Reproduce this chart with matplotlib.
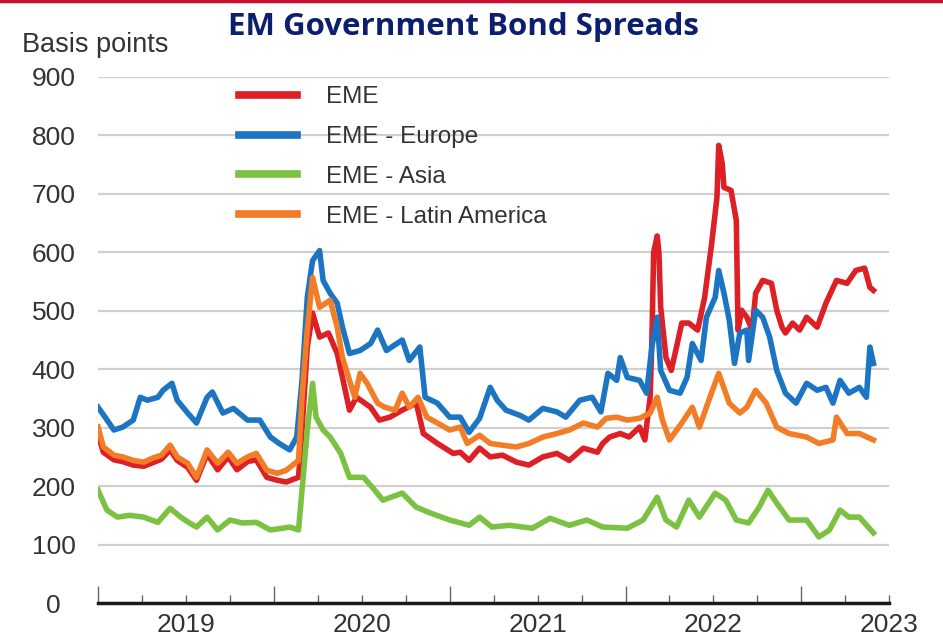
import matplotlib
matplotlib.use("Agg")
import matplotlib.pyplot as plt
from matplotlib.lines import Line2D

plt.rcParams['font.family'] = ['Liberation Sans', 'DejaVu Sans']

# Data (decimal years, basis points)
eme_t = [2019.00, 2019.03, 2019.09, 2019.14, 2019.20, 2019.26, 2019.31, 2019.36, 2019.41, 2019.45,
         2019.51, 2019.56, 2019.62, 2019.68, 2019.74, 2019.79, 2019.85, 2019.90, 2019.96, 2020.02,
         2020.07, 2020.14, 2020.16, 2020.19, 2020.22, 2020.26, 2020.31, 2020.36, 2020.39, 2020.43,
         2020.47, 2020.55, 2020.60, 2020.66, 2020.73, 2020.81, 2020.85, 2020.93, 2021.02, 2021.06,
         2021.11, 2021.17, 2021.23, 2021.30, 2021.38, 2021.45, 2021.53, 2021.61, 2021.68, 2021.76,
         2021.84, 2021.87, 2021.91, 2021.97, 2022.02, 2022.08, 2022.11, 2022.14, 2022.15, 2022.16,
         2022.18, 2022.19, 2022.20, 2022.23, 2022.26, 2022.29, 2022.32, 2022.36, 2022.41, 2022.45,
         2022.49, 2022.52, 2022.53, 2022.55, 2022.56, 2022.60, 2022.63, 2022.64, 2022.66, 2022.69,
         2022.72, 2022.74, 2022.78, 2022.83, 2022.86, 2022.89, 2022.91, 2022.95, 2022.99, 2023.03,
         2023.09, 2023.14, 2023.20, 2023.26, 2023.31, 2023.36, 2023.39, 2023.41]
eme = [288, 258, 245, 242, 236, 234, 240, 246, 262, 244,
       232, 210, 255, 228, 250, 228, 242, 245, 215, 210,
       207, 215, 296, 438, 496, 455, 462, 427, 386, 330,
       352, 335, 313, 318, 330, 342, 290, 273, 256, 258,
       244, 265, 250, 253, 241, 236, 250, 256, 244, 265,
       258, 273, 284, 290, 284, 301, 279, 352, 450, 600,
       628, 600, 506, 420, 398, 438, 479, 479, 467, 523,
       615, 694, 783, 752, 711, 706, 655, 467, 501, 489,
       467, 530, 552, 547, 501, 472, 462, 479, 467, 489,
       472, 513, 552, 547, 569, 573, 540, 535]

europe_t = [2019.00, 2019.04, 2019.09, 2019.14, 2019.20, 2019.24, 2019.28, 2019.34, 2019.37, 2019.42,
            2019.45, 2019.51, 2019.56, 2019.62, 2019.65, 2019.71, 2019.77, 2019.85, 2019.92, 2019.98,
            2020.03, 2020.09, 2020.13, 2020.16, 2020.19, 2020.22, 2020.26, 2020.28, 2020.32, 2020.36,
            2020.39, 2020.43, 2020.49, 2020.55, 2020.59, 2020.64, 2020.73, 2020.77, 2020.83, 2020.86,
            2020.93, 2021.00, 2021.06, 2021.11, 2021.17, 2021.23, 2021.27, 2021.32, 2021.40, 2021.45,
            2021.53, 2021.61, 2021.66, 2021.74, 2021.81, 2021.86, 2021.90, 2021.95, 2021.97, 2022.01,
            2022.08, 2022.12, 2022.15, 2022.18, 2022.20, 2022.25, 2022.31, 2022.35, 2022.38, 2022.43,
            2022.46, 2022.51, 2022.53, 2022.56, 2022.59, 2022.62, 2022.65, 2022.69, 2022.70, 2022.74,
            2022.78, 2022.82, 2022.86, 2022.91, 2022.97, 2023.03, 2023.09, 2023.14, 2023.18, 2023.22,
            2023.27, 2023.33, 2023.37, 2023.39, 2023.41]
europe = [335, 318, 296, 301, 313, 352, 347, 352, 364, 376,
          347, 325, 308, 352, 361, 325, 333, 313, 313, 284,
          273, 262, 284, 381, 523, 586, 603, 552, 530, 513,
          472, 427, 432, 444, 467, 432, 450, 415, 438, 352,
          342, 318, 318, 292, 316, 369, 347, 330, 321, 313,
          333, 327, 318, 347, 352, 327, 393, 381, 420, 386,
          381, 359, 438, 489, 398, 364, 359, 386, 444, 415,
          489, 523, 569, 530, 484, 410, 462, 467, 415, 501,
          489, 455, 398, 359, 342, 376, 364, 369, 342, 381,
          359, 369, 352, 438, 410]

asia_t = [2019.00, 2019.05, 2019.11, 2019.18, 2019.26, 2019.34, 2019.41, 2019.47, 2019.52, 2019.56,
          2019.62, 2019.68, 2019.75, 2019.82, 2019.90, 2019.98, 2020.05, 2020.09, 2020.14, 2020.16,
          2020.19, 2020.22, 2020.24, 2020.28, 2020.32, 2020.38, 2020.43, 2020.51, 2020.56, 2020.62,
          2020.73, 2020.81, 2020.89, 2021.00, 2021.11, 2021.17, 2021.24, 2021.34, 2021.47, 2021.57,
          2021.68, 2021.78, 2021.87, 2022.01, 2022.10, 2022.18, 2022.23, 2022.29, 2022.36, 2022.42,
          2022.51, 2022.57, 2022.63, 2022.70, 2022.76, 2022.81, 2022.86, 2022.93, 2023.03, 2023.10,
          2023.16, 2023.22, 2023.27, 2023.33, 2023.41]
asia = [193, 159, 147, 150, 147, 138, 162, 147, 137, 130,
        147, 125, 142, 137, 138, 125, 128, 130, 125, 193,
        296, 376, 318, 296, 284, 256, 215, 215, 198, 176,
        188, 164, 154, 142, 133, 147, 130, 133, 128, 145,
        133, 142, 130, 128, 142, 181, 142, 130, 176, 147,
        188, 176, 142, 137, 164, 193, 171, 142, 142, 113,
        125, 159, 147, 147, 120]

latam_t = [2019.00, 2019.03, 2019.09, 2019.14, 2019.20, 2019.26, 2019.31, 2019.36, 2019.41, 2019.45,
           2019.51, 2019.56, 2019.62, 2019.68, 2019.74, 2019.79, 2019.85, 2019.90, 2019.96, 2020.02,
           2020.07, 2020.14, 2020.16, 2020.19, 2020.22, 2020.26, 2020.32, 2020.36, 2020.39, 2020.43,
           2020.46, 2020.49, 2020.53, 2020.59, 2020.63, 2020.69, 2020.73, 2020.77, 2020.82, 2020.87,
           2020.93, 2021.00, 2021.06, 2021.10, 2021.17, 2021.23, 2021.30, 2021.38, 2021.45, 2021.53,
           2021.61, 2021.68, 2021.76, 2021.84, 2021.89, 2021.95, 2022.01, 2022.08, 2022.14, 2022.18,
           2022.21, 2022.25, 2022.32, 2022.38, 2022.42, 2022.48, 2022.53, 2022.59, 2022.65, 2022.69,
           2022.74, 2022.80, 2022.86, 2022.93, 2023.03, 2023.10, 2023.18, 2023.20, 2023.26, 2023.33,
           2023.41]
latam = [301, 267, 253, 250, 244, 241, 248, 253, 270, 250,
         239, 215, 262, 239, 258, 239, 250, 256, 227, 222,
         227, 244, 352, 467, 557, 506, 518, 472, 420, 381,
         352, 393, 376, 342, 335, 330, 359, 335, 352, 318,
         308, 296, 301, 273, 287, 273, 270, 267, 273, 284,
         290, 296, 308, 301, 316, 318, 313, 316, 325, 352,
         313, 279, 308, 335, 301, 352, 393, 342, 325, 335,
         364, 342, 301, 290, 284, 273, 279, 318, 290, 290,
         279]

labels = ['EME', 'EME - Europe', 'EME - Asia', 'EME - Latin America']
colors = ['#dd1f26', '#1b75c2', '#7cc242', '#f27d26']
years = [2019, 2020, 2021, 2022, 2023]

fig = plt.figure(figsize=(9.43, 6.39), dpi=100)
ax = fig.add_axes([0.104, 0.0563, 0.839, 0.8232])

# series, orange drawn last so it sits on top
for t, v, lab, c in zip([eme_t, europe_t, asia_t, latam_t], [eme, europe, asia, latam], labels, colors):
    ax.plot(t, v, color=c, lw=4, label=lab, zorder=3, solid_joinstyle='round')

# axes limits and grid
ax.set_xlim(2019.0, 2023.5)
ax.set_ylim(0, 900)
ax.set_yticks(range(0, 1000, 100))
ax.yaxis.grid(True, color='#d0d0d0', lw=1.6)
ax.set_axisbelow(True)
for s in ['left', 'right', 'top']:
    ax.spines[s].set_visible(False)
ax.spines['bottom'].set_linewidth(2.5)
ax.spines['bottom'].set_color('#1a1a1a')
ax.spines['bottom'].set_zorder(4)

ax.tick_params(axis='y', length=0, pad=32, labelsize=19, labelcolor='#333333')
for lbl in ax.get_yticklabels():
    lbl.set_ha('center')

# x ticks: year boundaries major, quarters minor, year names at mid-year
ax.set_xticks(years)
ax.set_xticklabels([''] * len(years))
quarters = [y + q for y in years for q in (0.25, 0.5, 0.75) if y + q <= 2023.5]
ax.set_xticks(quarters, minor=True)
ax.set_xticklabels([str(int(q)) if q % 1 == 0.5 else '' for q in quarters], minor=True)
ax.tick_params(axis='x', which='major', direction='in', length=12, width=1, color='#666666')
ax.tick_params(axis='x', which='minor', direction='in', length=6, width=1, color='#666666',
               pad=7, labelsize=19, labelcolor='#333333')

# legend without frame
ax.legend(loc='upper left', bbox_to_anchor=(0.178, 0.982), frameon=False, fontsize=17.5,
          handlelength=2.4, handletextpad=1.2, labelspacing=0.73, borderpad=0, borderaxespad=0,
          labelcolor='#333333')
for line in ax.get_legend().get_lines():
    line.set_linewidth(5.5)

# title and unit label
fig.text(0.492, 0.958, 'EM Government Bond Spreads', ha='center', va='center',
         fontsize=22.5, fontweight='bold', color='#0c1f6e', family='Open Sans')
fig.text(22 / 943, 1 - 45 / 639, 'Basis points', ha='left', va='center', fontsize=19.5, color='#333333')

# thin red rule at top
fig.add_artist(Line2D([0, 1], [0.999, 0.999], color='#c8102e', lw=2.5))

plt.savefig('out.png', dpi=100)
